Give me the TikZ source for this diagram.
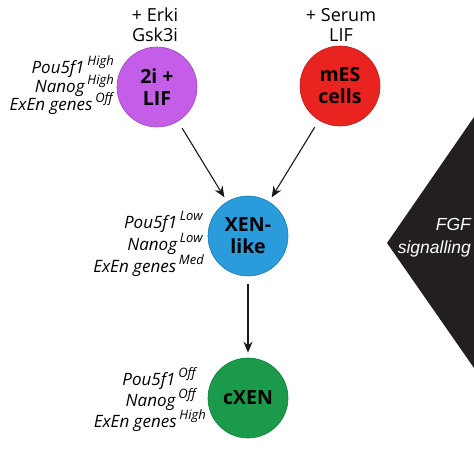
\documentclass[tikz,border=0pt]{standalone}
\usepackage{fontspec}
\setmainfont{Open Sans}
\newfontfamily\arialfont{Liberation Sans}
\usetikzlibrary{arrows.meta}
\definecolor{cpurple}{RGB}{196,94,232}
\definecolor{cred}{RGB}{232,35,32}
\definecolor{cblue}{RGB}{42,155,219}
\definecolor{cgreen}{RGB}{26,154,74}
\definecolor{cblack}{RGB}{35,31,32}
\newcommand{\hsup}[1]{\,\raisebox{0.45em}{\fontsize{13}{13}\selectfont\itshape #1}}
\tikzset{
  cell/.style={circle, minimum size=80pt, inner sep=0pt, draw=#1!80!black, line width=0.6pt, fill=#1,
    font=\fontsize{19.5}{22}\selectfont\bfseries, align=center, text=black},
  gene/.style={anchor=base east, font=\fontsize{17}{20}\selectfont\itshape, inner sep=0pt},
  cond/.style={align=center, font=\fontsize{18}{20}\selectfont, inner sep=0pt},
  flow/.style={-{Stealth[length=11pt,width=9pt]}, line width=1.1pt, draw=black!90, shorten <=8pt, shorten >=5pt}
}
\begin{document}
\begin{tikzpicture}[x=1pt,y=-1pt]
\useasboundingbox (0,0) rectangle (474,474);
% FGF wedge
\fill[cblack] (387,243) -- (474,117) -- (474,368) -- cycle;
\node[anchor=east, align=right, text=white, inner sep=0pt,
  font=\arialfont\itshape\fontsize{17.5}{23}\selectfont] (fgf) at (471,238) {FGF\\signalling};
% cells
\node[cell=cpurple] (twoi) at (157,87) {2i +\\LIF};
\node[cell=cred] (mes) at (340,86) {mES\\cells};
\node[cell=cblue] (xen) at (248,236) {XEN-\\like};
\node[cell=cgreen] (cxen) at (248,398) {cXEN};
% conditions
\node[cond] (c1) at (155,25) {+ Erki\\Gsk3i};
\node[cond] (c2) at (341,25) {+ Serum\\LIF};
% gene labels
\node[gene] (g1a) at (114,73) {Pou5f1\hsup{High}};
\node[gene] (g1b) at (114,92) {Nanog\hsup{High}};
\node[gene] (g1c) at (113,110) {ExEn genes\hsup{Off}};
\node[gene] (g2a) at (203,228) {Pou5f1\hsup{Low}};
\node[gene] (g2b) at (203,250) {Nanog\hsup{Low}};
\node[gene] (g2c) at (204,272) {ExEn genes\hsup{Med}};
\node[gene] (g3a) at (196,385) {Pou5f1\hsup{Off}};
\node[gene] (g3b) at (196,406) {Nanog\hsup{Off}};
\node[gene] (g3c) at (206,427) {ExEn genes\hsup{High}};
% arrows
\draw[flow] (twoi) -- (xen);
\draw[flow] (mes) -- (xen);
\draw[flow] (xen) -- (cxen);
\end{tikzpicture}
\end{document}
